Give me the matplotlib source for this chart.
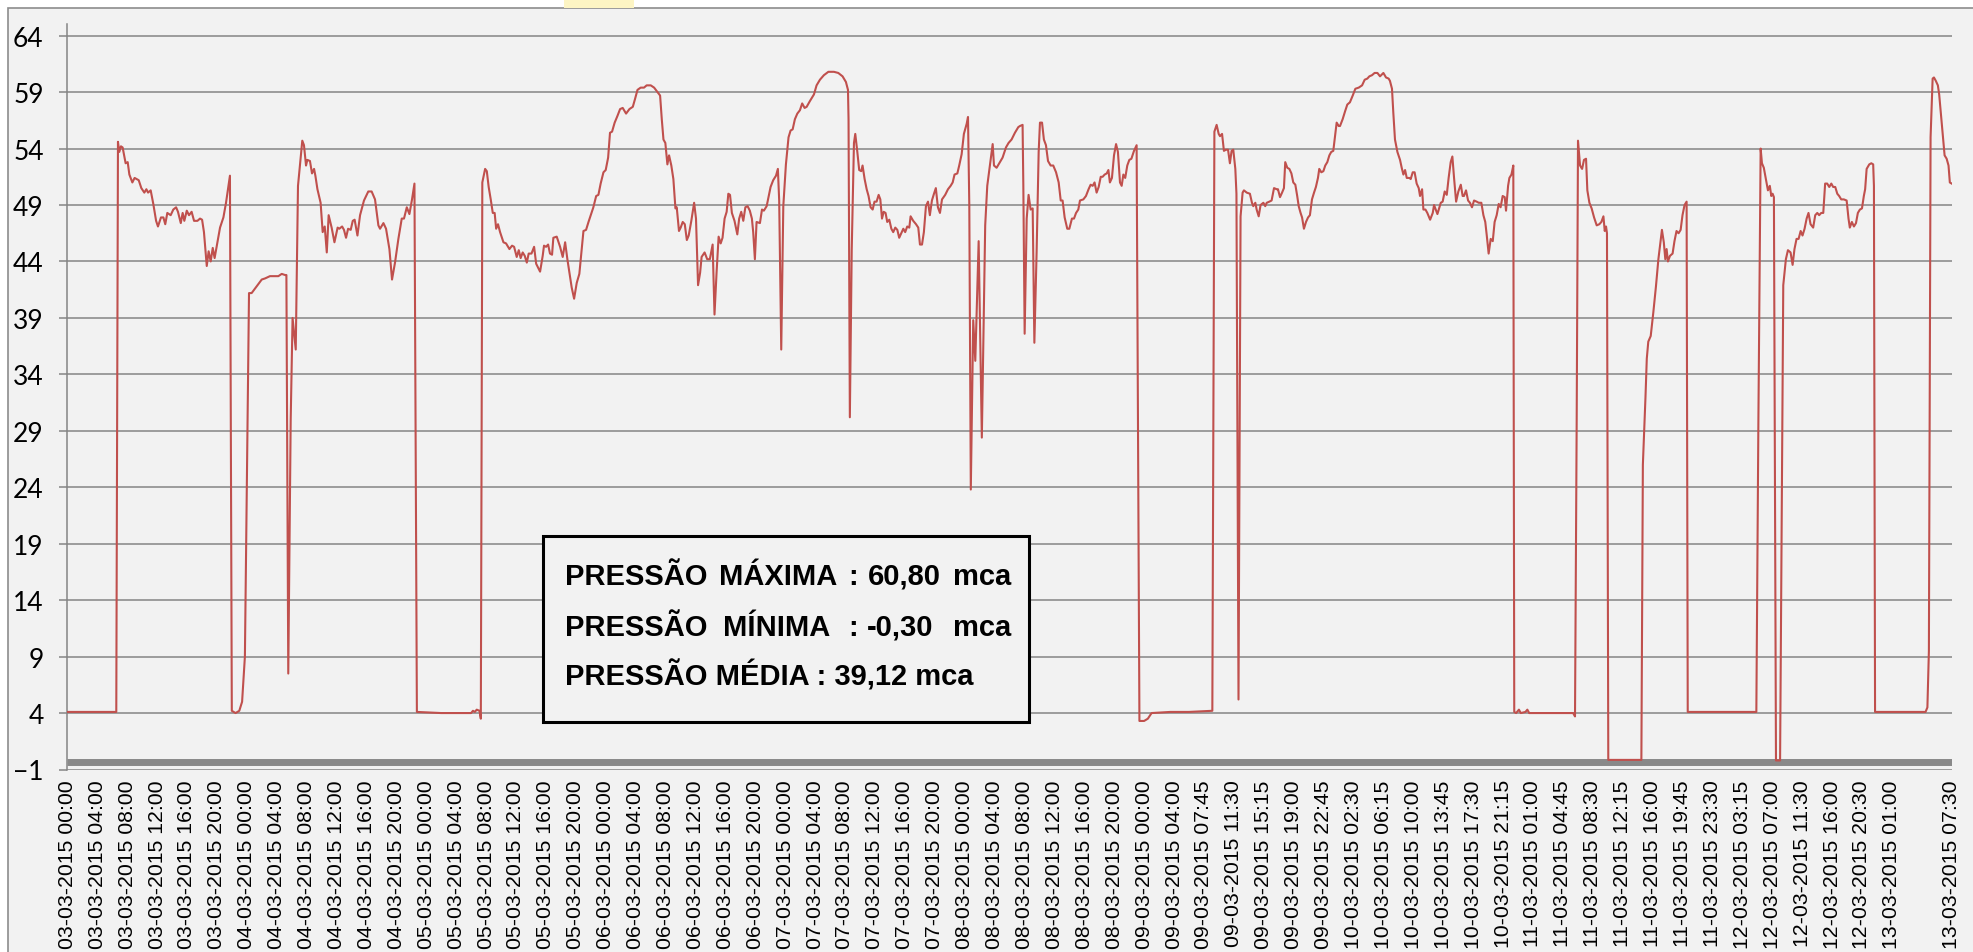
import matplotlib
matplotlib.use("Agg")
import matplotlib.pyplot as plt
from matplotlib.patches import Rectangle

# pressure readings (mca) against the category index of the 15 min log
idx = [
    0, 26.2, 27.1, 27.8, 28.7, 29.6, 31.2, 32.3, 33.2, 34.8, 36.0, 38.2, 39.6, 41.2, 42.3, 43.2, 44.6, 46.0,
    47.5, 48.5, 50.1, 51.4, 52.4, 53.5, 55.3, 56.7, 58.2, 59.2, 60.7, 61.7, 62.6, 63.9, 65.1, 66.5, 67.8,
    69.6, 71.0, 72.1, 73.1, 74.6, 75.6, 76.7, 77.8, 78.8, 80.3, 81.7, 83.5, 84.9, 87.0,
    88.0, 90, 92, 93.5, 95, 97.2, 98.6, 101.3, 104.0, 105.8, 108.4, 112.9, 114.7, 116.5, 117.2, 118.2,
    119.5, 120.5, 122.2, 123.4, 125.7, 126.6, 127.7, 128.4, 129.8, 130.9, 132.0, 132.7, 133.8, 135.5,
    136.6, 137.7, 138.8, 139.8, 141.4, 142.9, 144.6, 145.5, 147.0, 148.0, 149.1, 150.2, 151.6, 152.7,
    153.7, 155.2, 156.6, 158.7, 161.0, 162.8, 164.6, 166.4, 167.3, 169.1, 170.5, 172.3, 173.7, 175.3,
    177.1, 178.9, 180.1, 181.6, 183.0, 184.4, 185.7,
    187.0, 200, 216, 217, 218, 219, 220.5, 221.2, 222.0, 223.5, 224.4, 225.4, 226.5, 227.6, 228.6, 229.4,
    230.4, 231.5, 233.3, 234.7, 236.5, 237.9, 239.0, 240.4, 241.5, 242.5, 243.6, 244.7, 245.8, 246.8,
    248.3, 249.7, 250.8, 252.9, 254.3, 255.0, 256.1, 257.2, 258.2, 259.3, 260.0, 261.8, 263.6, 265.0,
    266.3, 267.5, 268.6, 269.8, 271.1, 272.5, 273.9, 275.0, 276.1, 277.5, 278.8, 280.0, 281.4, 282.9,
    284.1, 285.3, 286.8, 288.0, 289.3, 290.3, 291.4, 292.8, 294.3, 295.7, 297.1, 298.9, 300.7, 302.5,
    303.7, 305.0, 306.7, 308.5, 309.9, 312.1, 313.9, 315.3, 317.1, 318.0, 318.9, 319.9, 321.0, 321.9,
    323.1, 324.2, 325.3, 326.0, 327.2, 328.1, 329.2, 330.3, 331.4, 332.4, 333.8, 335.3, 336.3, 337.4,
    338.5, 339.3, 340.9, 342.3, 343.7, 345.2, 346.2, 347.3, 348.4, 349.5, 350.5, 351.6, 352.7, 353.6,
    354.5, 355.5, 356.9, 358.4, 359.4, 360.5, 361.6, 362.7, 363.9, 365.1, 366.2, 366.9, 367.8, 368.7,
    370.5, 371.6, 372.6, 374.1, 375.1, 376.2, 377.6, 379.1, 380.1, 380.8, 381.9, 383.0, 384.4, 385.8,
    386.9, 388.0, 389.2, 390.5, 391.9, 393.1, 394.4, 395.5, 397.2, 399.4, 400.8, 402.6, 404.7, 407.1,
    410.1, 412.4, 414.7, 416.5, 417.6, 417.9, 418.6, 419.6, 420.8, 421.5, 422.6, 423.6, 424.7, 425.4,
    426.5, 427.6, 428.6, 429.7, 430.8, 431.8, 432.9, 434.0, 434.9, 435.8, 436.7, 437.7, 438.6, 439.7,
    440.8, 441.8, 442.9, 444.0, 445.0, 446.1, 447.2, 448.2, 449.3, 450.4, 451.1, 452.5, 454.0, 455.2,
    456.1, 457.2, 458.2, 459.3, 460.4, 461.4, 462.5, 463.6, 464.6, 465.7, 466.8, 467.9, 469.6, 471.1,
    472.5, 473.6, 474.6, 476.1, 477.1, 478.4, 479.6, 481.1, 481.8, 482.5, 483.3, 484.6, 485.7, 487.5,
    489.2, 491.0, 492.1, 493.5, 495.0, 495.7, 497.1, 498.5, 500.3, 502.1, 503.5, 505.1, 506.9, 508.7,
    509.6, 511.0, 511.4, 512.1, 513.2, 514.2, 515.3, 516.4, 517.3, 518.5, 519.6, 520.3, 521.4, 522.4,
    523.5, 524.6, 526.0, 527.4, 528.9, 530.3, 531.4, 532.4, 533.5, 534.9, 536.0, 537.4, 538.5, 539.6,
    540.8, 541.7, 543.5, 544.9, 546.3, 547.4, 548.5, 549.5, 550.6, 551.7, 552.8, 553.8, 554.9, 556.0,
    556.9, 557.7, 558.8, 559.9, 561.0, 562.0, 563.1, 564.0, 564.9, 565.9, 567.0, 568.1, 569.2, 570.6,
    572.0,
    573.5, 576, 578, 580, 590, 600, 612.5, 613.6, 614.8, 615.9, 616.6, 617.7, 618.7, 619.8, 620.9, 621.9,
    622.8, 623.7, 624.8, 625.4, 626.5, 627.6, 628.7, 629.4, 630.9, 632.6, 633.7, 634.4, 635.5, 636.2,
    637.3, 638.3, 639.8, 640.8, 641.6, 643.0, 644.2, 645.5, 646.9, 647.6, 648.7, 649.8, 650.8, 651.5,
    652.6, 653.7, 654.8, 655.8, 656.9, 657.9, 658.7, 659.7, 660.5, 661.5, 662.6, 663.7, 664.7, 665.8,
    666.9, 667.9, 669.0, 669.7, 670.8, 671.9, 672.9, 674.0, 675.1, 676.1, 677.2, 677.9, 679.0, 680.1,
    680.8, 682.2, 683.5, 684.7, 686.1, 687.6, 689.0, 690.8, 692.6, 694.0, 695.4, 696.5, 697.9, 699.3,
    700.8, 702.2, 704.0, 705.4, 706.8, 707.5, 708.6, 709.3, 710.2, 711.5, 712.9, 713.8, 714.7, 715.6,
    716.5, 717.9, 718.6, 719.7, 720.7, 721.8, 722.9, 723.6, 724.7, 725.4, 726.5, 727.5, 729.0, 730.4,
    731.1, 732.9, 734.7, 735.7, 736.8, 737.9, 738.9, 740.0, 740.9, 741.8, 742.9, 744.1, 745.4, 746.4,
    747.1, 748.2, 749.3, 750.3, 751.4, 752.5, 753.9, 755.0, 756.4, 757.5, 758.5, 759.3, 760.3, 761.4,
    762.5, 763.5, 764.6, 765.7, 766.7, 767.8, 768.9, 769.6, 770.7, 771.4, 772.5, 773.5,
    774.0, 775, 776.5, 777.5, 780, 781, 782, 805.5, 806.5, 807.4, 808.1, 809.2, 810.3, 811.3, 812.4,
    813.1, 814.2, 815.4, 816.7, 818.1, 819.5, 820.6, 821.7, 822.4, 823.1, 823.6, 824.3, 842.0, 842.8,
    844.2, 844.9, 845.7, 847.0, 848.4, 849.8, 851.1, 852.0, 853.0, 854.0, 854.8, 855.5, 856.2, 857.3,
    858.7, 859.7, 860.8, 861.9, 863.0, 864.0, 865.1, 866.2,
    866.8, 880, 903.5, 904.6, 905.8, 906.5, 907.5, 908.6, 909.7, 910.7, 911.5, 912.2, 912.9, 914.0,
    916.2, 917.9, 919.3, 920.4, 921.8, 922.9, 923.9, 925.0, 926.1, 927.2, 928.2, 929.3, 930.4, 931.4,
    932.5, 933.9, 935.0, 936.1, 937.1, 938.2, 939.3, 940.3, 941.4, 942.5, 943.6, 944.6, 945.7, 946.8,
    947.8, 948.9, 950.3, 951.8, 952.8, 953.5, 954.6, 955.7, 956.8, 957.8, 958.9, 960.0, 961.0, 961.7,
    962.5, 963.9, 965.0, 966.0, 966.4,
    967.0, 980, 994.0, 995.0, 995.8, 996.7, 997.8, 998.5, 999.5, 1000.6, 1001.3, 1002.8, 1004.2,
    1005.3, 1006.3, 1007.0, 1008.0,
]
pressao = [
    4.1, 4.1, 54.6, 53.7, 54.2, 54.1, 52.7, 52.8, 51.7, 51.0, 51.4, 51.2, 50.5, 50.1, 50.4, 50.1, 50.3, 49.1,
    47.6, 47.1, 47.9, 47.9, 47.3, 48.3, 48.1, 48.6, 48.8, 48.4, 47.4, 48.3, 47.6, 48.5, 48.1, 48.4, 47.6,
    47.6, 47.8, 47.7, 46.6, 43.6, 44.9, 44.0, 45.2, 44.3, 45.7, 47.0, 47.9, 49.2, 51.6,
    4.2, 4.0, 4.2, 5.0, 9.0, 41.2, 41.2, 41.8, 42.4, 42.5, 42.7, 42.7, 42.9, 42.8, 42.8, 7.5,
    30.0, 39.0, 36.2, 50.7, 54.7, 54.3, 52.5, 53.0, 52.9, 51.8, 52.2, 51.6, 50.4, 49.2,
    46.6, 47.1, 44.8, 48.1, 47.0, 45.7, 47.0, 46.9, 47.1, 46.8, 46.1, 46.9, 46.8, 47.6,
    47.7, 46.3, 48.1, 49.4, 50.2, 50.2, 49.5, 47.2, 46.9, 47.4, 46.9, 45.1, 42.4, 43.9,
    46.0, 47.8, 47.8, 48.8, 48.2, 49.5, 50.9,
    4.1, 4.0, 4.0, 4.2, 4.1, 4.3, 4.2, 3.5, 51.0, 52.2, 52.0, 50.6, 49.5, 48.3, 48.3, 46.9,
    47.3, 46.6, 45.7, 45.6, 45.1, 45.4, 45.3, 44.4, 45.0, 44.3, 44.8, 44.5, 43.9, 44.7,
    44.7, 45.3, 43.8, 43.1, 44.5, 45.4, 45.3, 45.5, 44.7, 44.6, 46.1, 46.2, 45.3, 44.4,
    45.7, 44.2, 43.0, 41.7, 40.7, 42.1, 42.9, 44.8, 46.7, 46.8, 47.5, 48.1, 48.8, 49.8,
    49.9, 50.9, 51.9, 52.1, 53.2, 55.4, 55.5, 56.3, 56.9, 57.5, 57.6, 57.1, 57.5, 57.7,
    58.4, 59.2, 59.4, 59.4, 59.6, 59.6, 59.4, 59.1, 58.7, 56.6, 54.8, 54.5, 52.6, 53.4,
    52.5, 51.3, 48.7, 48.8, 46.7, 47.0, 47.5, 47.3, 45.9, 46.3, 47.6, 49.2, 47.8, 41.9,
    43.0, 44.4, 44.8, 44.2, 44.2, 45.5, 39.3, 43.0, 46.2, 45.6, 46.1, 47.8, 48.4, 50.0,
    49.9, 48.3, 47.6, 46.4, 47.8, 48.4, 47.6, 48.8, 48.9, 48.5, 47.8, 46.6, 44.2, 47.5,
    47.4, 48.6, 48.5, 48.9, 49.7, 50.6, 51.2, 51.6, 52.2, 49.4, 36.2, 48.9, 52.6, 55.0,
    55.6, 55.7, 56.6, 57.1, 57.4, 58.0, 57.6, 57.7, 58.2, 58.8, 59.6, 60.1, 60.5, 60.8,
    60.8, 60.7, 60.4, 59.9, 59.2, 56.6, 30.2, 45.0, 54.5, 55.3, 53.7, 52.1, 52.0, 52.5,
    51.3, 50.4, 49.8, 48.8, 48.6, 49.3, 49.3, 49.9, 49.5, 47.8, 48.4, 48.3, 47.5, 47.7,
    46.9, 46.6, 47.0, 46.8, 46.1, 46.5, 46.9, 46.6, 47.1, 47.0, 48.0, 47.6, 47.3, 47.0,
    45.5, 45.5, 46.6, 48.9, 49.3, 48.1, 49.4, 50.0, 50.5, 48.8, 48.3, 49.5, 49.9, 50.4,
    50.7, 51.0, 51.7, 51.8, 52.5, 53.5, 55.3, 56.2, 56.8, 48.9, 23.8, 38.8, 35.2, 45.8,
    28.4, 47.2, 50.7, 52.5, 54.4, 52.5, 52.3, 52.7, 53.2, 54.1, 54.5, 54.8, 55.4, 55.9,
    56.0, 56.1, 50.7, 37.6, 47.8, 49.9, 48.6, 48.7, 36.8, 44.8, 53.7, 56.3, 56.3, 54.8,
    54.3, 52.9, 52.5, 52.5, 51.9, 51.0, 49.4, 49.4, 47.9, 46.9, 46.9, 47.8, 47.8, 48.3,
    48.6, 49.4, 49.5, 49.8, 50.4, 50.8, 50.7, 51.0, 50.1, 50.6, 51.5, 51.5, 51.7, 51.8,
    52.1, 51.0, 51.4, 53.4, 54.4, 53.7, 51.0, 50.7, 51.7, 51.4, 52.5, 53.0, 53.1, 53.8,
    54.3,
    3.3, 3.3, 3.5, 4.0, 4.1, 4.1, 4.2, 55.5, 56.1, 55.3, 55.1, 55.3, 53.8, 53.9, 53.9, 52.7,
    53.8, 53.9, 52.2, 50.0, 5.2, 48.0, 50.1, 50.3, 50.1, 50.0, 49.2, 48.9, 49.2, 48.6,
    48.0, 49.0, 49.2, 48.9, 49.2, 49.3, 49.4, 50.5, 50.4, 50.4, 49.7, 50.1, 50.5, 52.8,
    52.3, 52.2, 51.8, 51.0, 50.8, 49.8, 48.9, 48.3, 47.9, 46.9, 47.5, 47.9, 48.1, 49.5,
    50.1, 50.6, 51.4, 52.2, 51.9, 52.0, 52.5, 52.8, 53.4, 53.7, 53.8, 54.8, 56.3, 56.0,
    56.0, 56.6, 57.3, 57.9, 58.1, 58.7, 59.3, 59.4, 59.6, 60.1, 60.2, 60.4, 60.5, 60.7,
    60.7, 60.4, 60.7, 60.3, 60.2, 60.0, 59.3, 57.2, 54.8, 53.7, 53.0, 52.3, 51.7, 52.1,
    51.4, 51.4, 51.3, 51.9, 51.9, 50.9, 50.5, 49.8, 50.4, 48.6, 48.6, 48.3, 47.7, 48.3,
    49.0, 48.2, 49.2, 49.3, 50.2, 49.9, 51.4, 52.8, 53.3, 51.4, 49.3, 50.2, 50.8, 49.8,
    49.8, 50.3, 49.4, 49.2, 48.8, 49.4, 49.3, 49.2, 49.2, 48.1, 47.5, 46.3, 44.7, 46.0,
    45.8, 47.5, 48.1, 49.1, 48.8, 49.8, 49.7, 48.5, 50.7, 51.4, 51.7, 52.5,
    4.1, 4.0, 4.3, 4.0, 4.1, 4.3, 4.0, 4.0, 3.7, 30.0, 54.7, 52.5, 52.2, 53.0, 53.1,
    50.3, 49.2, 48.7, 47.9, 47.2, 47.3, 47.5, 48.0, 46.7, 47.1, 46.5, -0.15, -0.15, 26.0,
    32.0, 35.4, 36.9, 37.4, 39.5, 41.8, 44.2, 45.4, 46.8, 45.7, 44.2, 45.1, 44.0, 44.5,
    44.7, 45.8, 46.7, 46.5, 46.8, 48.1, 49.0, 49.3,
    4.1, 4.1, 4.1, 30.0, 54.0, 52.7, 52.3, 51.3, 50.3, 50.7, 49.8, 50.0, 49.7, -0.2,
    -0.2, 41.9, 44.2, 45.0, 44.8, 43.7, 45.1, 46.0, 46.0, 46.7, 46.3, 46.9, 47.8, 48.3,
    47.3, 47.0, 48.1, 48.3, 48.1, 48.3, 48.3, 50.9, 50.9, 50.6, 50.9, 50.6, 50.6, 50.0,
    49.8, 49.5, 49.5, 49.4, 47.8, 47.0, 47.5, 47.1, 47.4, 48.3, 48.6, 48.7, 49.8, 50.4,
    52.2, 52.6, 52.7, 52.6, 50.7,
    4.1, 4.1, 4.1, 4.5, 9.5, 55.0, 60.2, 60.3, 60.0, 59.6, 58.8, 56.0, 53.4,
    53.1, 52.5, 51.0, 50.9,
]
pressao_min = -0.30  # thick grey reference series along the bottom

x_labels = [
    "03-03-2015 00:00", "03-03-2015 04:00", "03-03-2015 08:00", "03-03-2015 12:00", "03-03-2015 16:00",
    "03-03-2015 20:00", "04-03-2015 00:00", "04-03-2015 04:00", "04-03-2015 08:00", "04-03-2015 12:00",
    "04-03-2015 16:00", "04-03-2015 20:00", "05-03-2015 00:00", "05-03-2015 04:00", "05-03-2015 08:00",
    "05-03-2015 12:00", "05-03-2015 16:00", "05-03-2015 20:00", "06-03-2015 00:00", "06-03-2015 04:00",
    "06-03-2015 08:00", "06-03-2015 12:00", "06-03-2015 16:00", "06-03-2015 20:00", "07-03-2015 00:00",
    "07-03-2015 04:00", "07-03-2015 08:00", "07-03-2015 12:00", "07-03-2015 16:00", "07-03-2015 20:00",
    "08-03-2015 00:00", "08-03-2015 04:00", "08-03-2015 08:00", "08-03-2015 12:00", "08-03-2015 16:00",
    "08-03-2015 20:00", "09-03-2015 00:00", "09-03-2015 04:00", "09-03-2015 07:45", "09-03-2015 11:30",
    "09-03-2015 15:15", "09-03-2015 19:00", "09-03-2015 22:45", "10-03-2015 02:30", "10-03-2015 06:15",
    "10-03-2015 10:00", "10-03-2015 13:45", "10-03-2015 17:30", "10-03-2015 21:15", "11-03-2015 01:00",
    "11-03-2015 04:45", "11-03-2015 08:30", "11-03-2015 12:15", "11-03-2015 16:00", "11-03-2015 19:45",
    "11-03-2015 23:30", "12-03-2015 03:15", "12-03-2015 07:00", "12-03-2015 11:30", "12-03-2015 16:00",
    "12-03-2015 20:30", "13-03-2015 01:00", "13-03-2015 07:30",
]
x_ticks = list(range(0, 977, 16)) + [1008]
y_ticks = list(range(-1, 65, 5))

W, H = 1973, 953
fig = plt.figure(figsize=(W / 100, H / 100), dpi=100)

# chart area (grey panel with thin border)
fig.add_artist(Rectangle((8 / W, -0.02), 1.0, 1 - 9 / H + 0.02, transform=fig.transFigure,
                         facecolor="#f2f2f2", edgecolor="#8c8c8c", lw=1.2, zorder=-5))
# faint yellow highlight peeking in at the top edge
fig.add_artist(Rectangle((564 / W, 1 - 9 / H), 70 / W, 9 / H, transform=fig.transFigure,
                         facecolor="#fdf5c4", edgecolor="none", zorder=-4))

ax = fig.add_axes([67.3 / W, 1 - 770.5 / H, (1951.7 - 67.3) / W, (770.5 - 25.4) / H])
ax.set_facecolor("none")
ax.plot([0, 1008], [pressao_min, pressao_min], color="#898989", lw=5, solid_capstyle="butt", zorder=2)
ax.plot(idx, pressao, color="#c0504d", lw=1.5, zorder=3)

ax.set_xlim(0, 1008)
ax.set_ylim(-1, 65)
ax.set_yticks(y_ticks)
ax.grid(axis="y", color="#858585", lw=1.1)
ax.set_axisbelow(True)
for s in ["top", "right", "bottom"]:
    ax.spines[s].set_visible(False)
ax.spines["left"].set_color("#858585")
ax.spines["left"].set_linewidth(1.1)
ax.tick_params(axis="y", length=6, width=1.1, color="#858585", pad=11, labelsize=19)
for lab in ax.get_yticklabels():
    lab.set_family("Lato")

ax.set_xticks(x_ticks)
ax.set_xticklabels(x_labels, rotation=90, fontsize=15.3, family="Liberation Sans")
ax.tick_params(axis="x", length=0, pad=7)

# statistics box
fig.add_artist(Rectangle((543 / W, 1 - 723 / H), 486 / W, 186 / H, transform=fig.transFigure,
                         facecolor="#f2f2f2", edgecolor="black", lw=2.2, zorder=5))
txt = dict(fontsize=21, fontweight="bold", family="Liberation Sans", va="baseline", zorder=6)
line1 = [("PRESSÃO", 565), ("MÁXIMA", 719.3), (":", 848), ("60,80", 868.3), ("mca", 952.7)]
line2 = [("PRESSÃO", 565), ("MÍNIMA", 723.3), (":", 848.3), ("-0,30", 866.7), ("mca", 953.3)]
for word, px in line1:
    fig.text(px / W, 1 - 585 / H, word, **txt)
for word, px in line2:
    fig.text(px / W, 1 - 635.7 / H, word, **txt)
fig.text(565 / W, 1 - 685.7 / H, "PRESSÃO MÉDIA : 39,12 mca", **txt)

fig.savefig("out.png", dpi=100)
